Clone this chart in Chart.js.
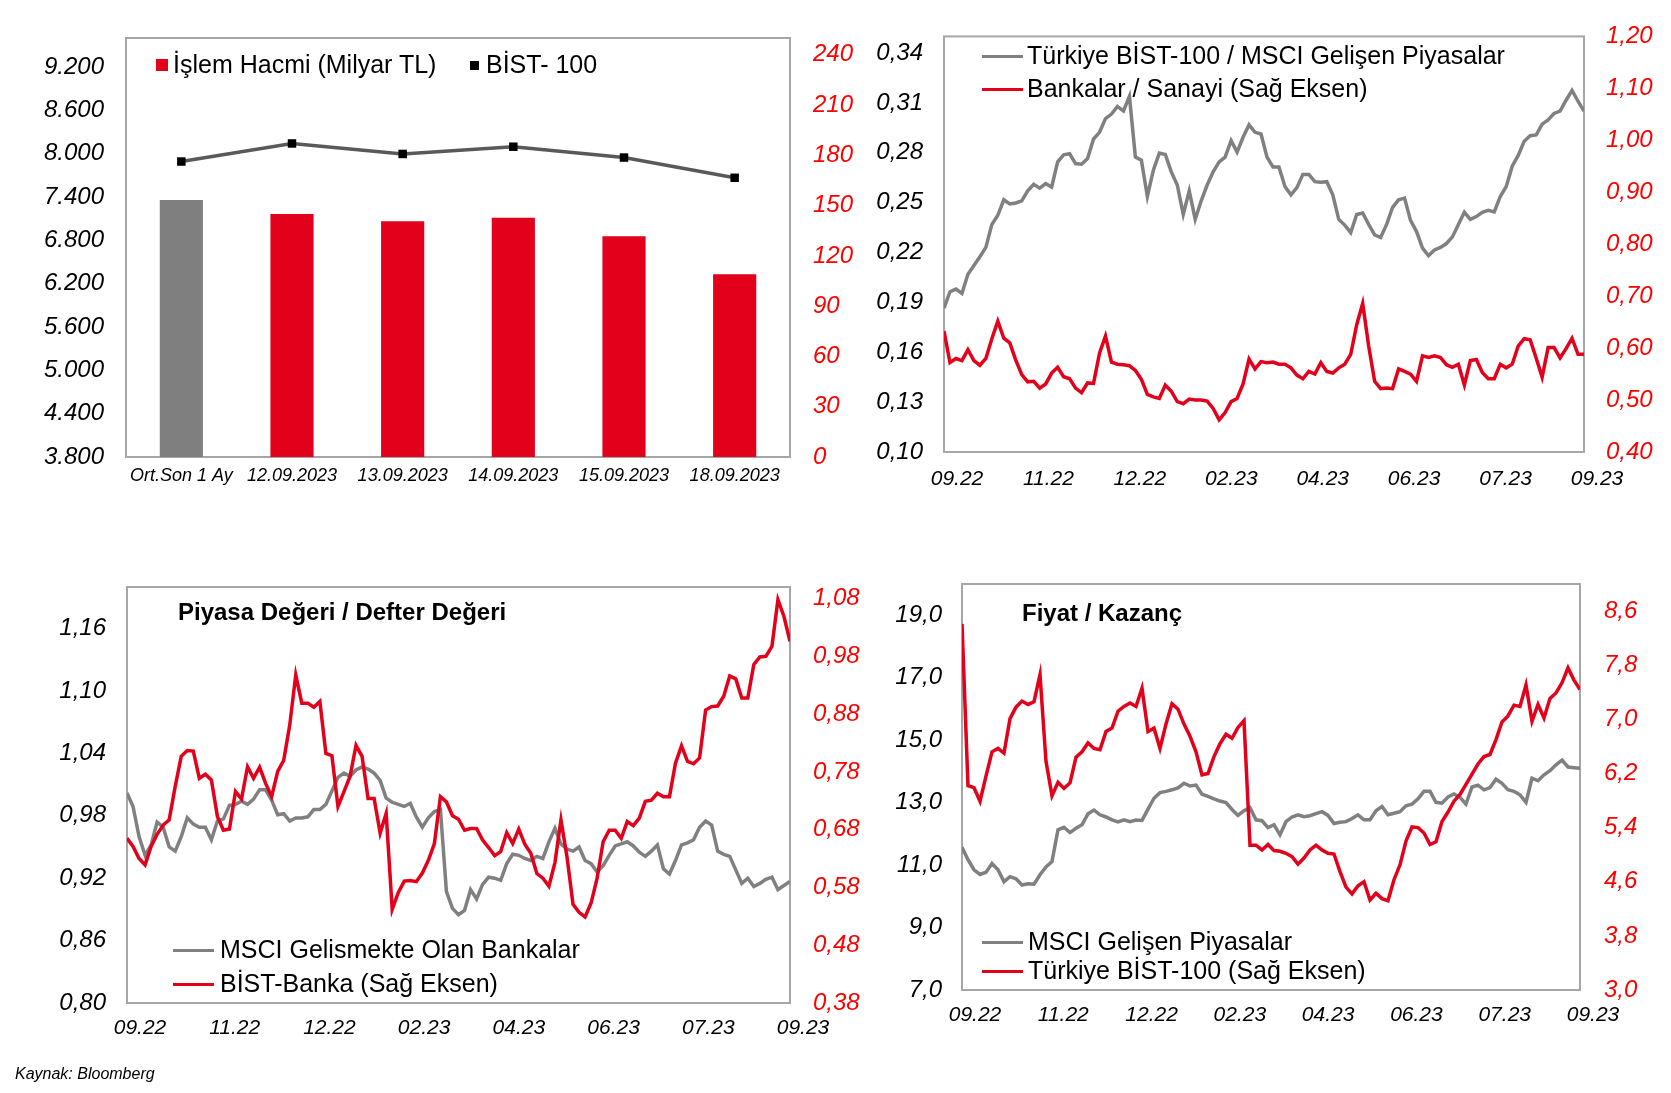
<!DOCTYPE html>
<html lang="tr">
<head>
  <meta charset="UTF-8">
  <title>Piyasa Göstergeleri</title>
  <style>
    body {
      margin: 0;
      background: #fff;
      font-family: "Liberation Sans", Arial, sans-serif;
    }
    #page {
      position: relative;
      width: 1671px;
      height: 1093px;
      overflow: hidden;
    }
    canvas {
      position: absolute;
    }
    .txt {
      position: absolute;
      font-size: 25px;
      line-height: 25px;
      color: #000;
      white-space: nowrap;
    }
    .title {
      position: absolute;
      font-size: 24px;
      line-height: 24px;
      font-weight: bold;
      color: #000;
      white-space: nowrap;
    }
    .sq {
      position: absolute;
    }
    .ln {
      position: absolute;
      width: 41px;
      height: 3px;
    }
    #source {
      position: absolute;
      left: 15px;
      top: 1066px;
      font-size: 16px;
      line-height: 16px;
      font-style: italic;
      color: #000;
    }
  </style>
</head>
<body>
<div id="page">
  <canvas id="volumeChart" width="870" height="510" style="left:0;top:0"></canvas>
  <canvas id="ratioChart" width="811" height="510" style="left:860px;top:0"></canvas>
  <canvas id="pbChart" width="870" height="553" style="left:0;top:540px"></canvas>
  <canvas id="peChart" width="811" height="553" style="left:860px;top:540px"></canvas>

  <!-- legends and titles sit inside the plot frames -->
  <div class="sq" style="left:156px;top:59px;width:12px;height:12px;background:#e2001a"></div>
  <div class="txt" style="left:173px;top:52px">İşlem Hacmi (Milyar TL)</div>
  <div class="sq" style="left:470px;top:61px;width:9px;height:9px;background:#000"></div>
  <div class="txt" style="left:486px;top:52px">BİST- 100</div>

  <div class="ln" style="left:982px;top:55px;background:#808080"></div>
  <div class="txt" style="left:1027px;top:43px">Türkiye BİST-100 / MSCI Gelişen Piyasalar</div>
  <div class="ln" style="left:982px;top:88px;background:#e2001a"></div>
  <div class="txt" style="left:1027px;top:76px">Bankalar / Sanayi (Sağ Eksen)</div>

  <div class="title" style="left:178px;top:600px">Piyasa Değeri / Defter Değeri</div>
  <div class="ln" style="left:173px;top:949px;background:#808080"></div>
  <div class="txt" style="left:220px;top:937px">MSCI Gelismekte Olan Bankalar</div>
  <div class="ln" style="left:173px;top:983px;background:#e2001a"></div>
  <div class="txt" style="left:220px;top:971px">BİST-Banka (Sağ Eksen)</div>

  <div class="title" style="left:1022px;top:601px">Fiyat / Kazanç</div>
  <div class="ln" style="left:982px;top:941px;background:#808080"></div>
  <div class="txt" style="left:1028px;top:929px">MSCI Gelişen Piyasalar</div>
  <div class="ln" style="left:982px;top:970px;background:#e2001a"></div>
  <div class="txt" style="left:1028px;top:958px">Türkiye BİST-100 (Sağ Eksen)</div>

  <div id="source">Kaynak: Bloomberg</div>
</div>

<script src="https://cdn.jsdelivr.net/npm/chart.js"></script>
<script>
  // ---- top left: daily volume and BIST-100 close
  const days = ['Ort.Son 1 Ay', '12.09.2023', '13.09.2023', '14.09.2023', '15.09.2023', '18.09.2023'];
  const volume = [153.3, 145.0, 140.6, 142.8, 131.7, 109.0];
  const bist100 = [7890, 8140, 7995, 8095, 7945, 7665];
  const bistTicks = [3800, 4400, 5000, 5600, 6200, 6800, 7400, 8000, 8600, 9200];
  const volumeTicks = [0, 30, 60, 90, 120, 150, 180, 210, 240];

  // ---- shared month labels of the three line charts
  const months = ['09.22', '11.22', '12.22', '02.23', '04.23', '06.23', '07.23', '09.23'];

  // ---- top right: BIST-100 / MSCI EM and banks / industrials
  const bistMsci = [
    0.1865, 0.1964, 0.1980, 0.1954, 0.2069, 0.2122, 0.2175, 0.2231, 0.2369, 0.2424,
    0.2517, 0.2492, 0.2498, 0.2511, 0.2571, 0.2610, 0.2587, 0.2614, 0.2594, 0.2745,
    0.2788, 0.2794, 0.2735, 0.2731, 0.2765, 0.2883, 0.2923, 0.3006, 0.3033, 0.3079,
    0.3051, 0.3140, 0.2774, 0.2755, 0.2537, 0.2695, 0.2798, 0.2790, 0.2685, 0.2606,
    0.2429, 0.2571, 0.2399, 0.2511, 0.2606, 0.2685, 0.2745, 0.2774, 0.2873, 0.2804,
    0.2893, 0.2968, 0.2923, 0.2913, 0.2774, 0.2715, 0.2715, 0.2597, 0.2547, 0.2590,
    0.2670, 0.2670, 0.2626, 0.2622, 0.2626, 0.2547, 0.2399, 0.2365, 0.2320, 0.2429,
    0.2438, 0.2369, 0.2306, 0.2290, 0.2369, 0.2472, 0.2517, 0.2527, 0.2393, 0.2326,
    0.2227, 0.2181, 0.2215, 0.2231, 0.2254, 0.2294, 0.2369, 0.2442, 0.2399, 0.2416,
    0.2442, 0.2454, 0.2444, 0.2537, 0.2597, 0.2719, 0.2784, 0.2869, 0.2903, 0.2907,
    0.2972, 0.2997, 0.3037, 0.3051, 0.3116, 0.3175, 0.3110, 0.3051
  ];
  const bankIndustry = [
    0.633, 0.572, 0.580, 0.576, 0.597, 0.576, 0.567, 0.580, 0.618, 0.652,
    0.619, 0.610, 0.577, 0.549, 0.535, 0.536, 0.523, 0.531, 0.552, 0.563,
    0.545, 0.541, 0.523, 0.514, 0.533, 0.532, 0.590, 0.623, 0.573, 0.569,
    0.568, 0.566, 0.557, 0.540, 0.511, 0.506, 0.503, 0.529, 0.517, 0.497,
    0.493, 0.502, 0.500, 0.500, 0.498, 0.484, 0.462, 0.476, 0.497, 0.503,
    0.531, 0.579, 0.560, 0.574, 0.572, 0.573, 0.569, 0.569, 0.562, 0.548,
    0.541, 0.555, 0.550, 0.572, 0.555, 0.552, 0.562, 0.569, 0.588, 0.645,
    0.686, 0.604, 0.536, 0.522, 0.523, 0.522, 0.560, 0.555, 0.550, 0.536,
    0.585, 0.582, 0.585, 0.582, 0.568, 0.563, 0.569, 0.529, 0.576, 0.578,
    0.553, 0.541, 0.541, 0.569, 0.562, 0.569, 0.604, 0.618, 0.616, 0.581,
    0.544, 0.601, 0.601, 0.581, 0.599, 0.619, 0.588, 0.588
  ];
  const ratioTicks = [0.10, 0.13, 0.16, 0.19, 0.22, 0.25, 0.28, 0.31, 0.34];
  const bankIndTicks = [0.40, 0.50, 0.60, 0.70, 0.80, 0.90, 1.00, 1.10, 1.20];

  // ---- bottom left: price / book
  const pbMsciBanks = [
    1.002, 0.989, 0.960, 0.942, 0.952, 0.974, 0.969, 0.950, 0.946, 0.960,
    0.978, 0.972, 0.969, 0.969, 0.957, 0.975, 0.977, 0.990, 0.991, 0.994,
    0.991, 0.996, 1.005, 1.005, 0.995, 0.981, 0.982, 0.975, 0.978, 0.978,
    0.979, 0.986, 0.986, 0.991, 1.004, 1.017, 1.021, 1.018, 1.024, 1.027,
    1.025, 1.021, 1.014, 0.997, 0.993, 0.991, 0.989, 0.992, 0.979, 0.969,
    0.978, 0.984, 0.986, 0.907, 0.891, 0.885, 0.889, 0.909, 0.900, 0.914,
    0.921, 0.920, 0.918, 0.934, 0.943, 0.942, 0.939, 0.937, 0.941, 0.939,
    0.955, 0.968, 0.953, 0.948, 0.946, 0.950, 0.937, 0.934, 0.926, 0.932,
    0.942, 0.951, 0.953, 0.955, 0.951, 0.945, 0.941, 0.946, 0.952, 0.929,
    0.924, 0.937, 0.952, 0.954, 0.957, 0.969, 0.975, 0.971, 0.946, 0.943,
    0.941, 0.928, 0.915, 0.920, 0.912, 0.915, 0.919, 0.921, 0.909, 0.913,
    0.917
  ];
  const pbBistBank = [
    0.665, 0.651, 0.630, 0.619, 0.651, 0.672, 0.688, 0.697, 0.755, 0.807,
    0.817, 0.816, 0.769, 0.776, 0.766, 0.703, 0.679, 0.681, 0.746, 0.733,
    0.789, 0.769, 0.788, 0.760, 0.737, 0.781, 0.800, 0.861, 0.948, 0.899,
    0.899, 0.892, 0.902, 0.812, 0.808, 0.720, 0.746, 0.772, 0.826, 0.807,
    0.734, 0.734, 0.674, 0.708, 0.542, 0.571, 0.591, 0.592, 0.590, 0.605,
    0.627, 0.656, 0.737, 0.728, 0.704, 0.698, 0.679, 0.682, 0.682, 0.662,
    0.649, 0.635, 0.642, 0.675, 0.656, 0.681, 0.655, 0.639, 0.604, 0.596,
    0.582, 0.623, 0.697, 0.633, 0.551, 0.537, 0.529, 0.553, 0.596, 0.659,
    0.679, 0.679, 0.665, 0.694, 0.687, 0.700, 0.729, 0.731, 0.743, 0.737,
    0.737, 0.795, 0.825, 0.798, 0.794, 0.804, 0.887, 0.893, 0.894, 0.911,
    0.946, 0.941, 0.908, 0.908, 0.966, 0.979, 0.980, 0.997, 1.078, 1.049,
    1.006
  ];
  const pbMsciTicks = [0.80, 0.86, 0.92, 0.98, 1.04, 1.10, 1.16];
  const pbBankTicks = [0.38, 0.48, 0.58, 0.68, 0.78, 0.88, 0.98, 1.08];

  // ---- bottom right: price / earnings
  const peMsci = [
    11.57, 11.17, 10.85, 10.70, 10.77, 11.05, 10.85, 10.47, 10.63, 10.56,
    10.36, 10.40, 10.39, 10.69, 10.94, 11.11, 12.13, 12.21, 12.04, 12.18,
    12.29, 12.64, 12.76, 12.61, 12.54, 12.45, 12.38, 12.45, 12.39, 12.44,
    12.43, 12.79, 13.14, 13.32, 13.36, 13.41, 13.47, 13.62, 13.53, 13.56,
    13.27, 13.20, 13.12, 13.05, 13.00, 12.78, 12.59, 12.74, 12.84, 12.45,
    12.42, 12.20, 12.29, 11.97, 12.39, 12.54, 12.61, 12.55, 12.58, 12.65,
    12.71, 12.59, 12.33, 12.37, 12.39, 12.49, 12.61, 12.45, 12.45, 12.74,
    12.88, 12.61, 12.66, 12.71, 12.90, 12.95, 13.12, 13.36, 13.36, 13.01,
    12.98, 13.18, 13.28, 13.17, 12.95, 13.50, 13.56, 13.41, 13.48, 13.75,
    13.62, 13.41, 13.36, 13.25, 13.01, 13.78, 13.70, 13.89, 14.02, 14.21,
    14.36, 14.14, 14.12, 14.10
  ];
  const peBist = [
    8.41, 6.02, 5.99, 5.79, 6.16, 6.52, 6.57, 6.50, 7.01, 7.18,
    7.27, 7.22, 7.26, 7.66, 6.38, 5.87, 6.07, 5.98, 6.06, 6.44,
    6.52, 6.65, 6.57, 6.55, 6.82, 6.87, 7.12, 7.19, 7.24, 7.19,
    7.46, 6.82, 6.87, 6.57, 6.93, 7.23, 7.15, 6.93, 6.75, 6.52,
    6.18, 6.20, 6.45, 6.64, 6.78, 6.72, 6.88, 6.98, 5.14, 5.14,
    5.07, 5.15, 5.06, 5.05, 5.02, 4.97, 4.86, 4.95, 5.07, 5.14,
    5.07, 5.02, 5.01, 4.75, 4.52, 4.42, 4.54, 4.60, 4.33, 4.43,
    4.35, 4.32, 4.63, 4.85, 5.20, 5.41, 5.40, 5.32, 5.15, 5.19,
    5.49, 5.63, 5.79, 5.89, 6.04, 6.19, 6.34, 6.45, 6.48, 6.70,
    6.96, 7.05, 7.21, 7.19, 7.51, 6.97, 7.22, 7.02, 7.31, 7.39,
    7.54, 7.76, 7.58, 7.44
  ];
  const peMsciTicks = [7, 9, 11, 13, 15, 17, 19];
  const peBistTicks = [3.0, 3.8, 4.6, 5.4, 6.2, 7.0, 7.8, 8.6];

  const RED = '#e2001a';
  const GRAY = '#808080';
  const FONT = '"Liberation Sans", Arial, sans-serif';
  const noGrid = { display: false, drawTicks: false };

  function italic(size) {
    return { family: FONT, size: size, style: 'italic' };
  }
  function thousands(v) {
    const s = String(v);
    return s.length > 3 ? s.slice(0, -3) + '.' + s.slice(-3) : s;
  }
  function comma(digits) {
    return v => v.toFixed(digits).replace('.', ',');
  }
  function fixedTicks(list) {
    return axis => { axis.ticks = list.map(v => ({ value: v })); };
  }

  // grey frame around the plot area
  const frame = {
    id: 'frame',
    beforeDatasetsDraw(chart) {
      const { ctx, chartArea: a } = chart;
      ctx.save();
      ctx.strokeStyle = '#a6a6a6';
      ctx.lineWidth = 2;
      ctx.strokeRect(a.left, a.top, a.right - a.left, a.bottom - a.top);
      ctx.restore();
    }
  };

  function valueAxis(pos, min, max, list, fmt, color, pad, width) {
    return {
      position: pos, min: min, max: max,
      afterBuildTicks: fixedTicks(list),
      ticks: { callback: fmt, color: color, font: italic(24), padding: pad },
      grid: noGrid,
      border: { display: false },
      afterFit: s => { s.width = width; }
    };
  }

  new Chart(document.getElementById('volumeChart'), {
    data: {
      labels: days,
      datasets: [
        {
          type: 'line', label: 'BİST- 100', data: bist100, yAxisID: 'y',
          borderColor: '#595959', borderWidth: 3.5,
          pointStyle: 'rect', pointRadius: 6, pointBackgroundColor: '#000', pointBorderWidth: 0,
          order: 0
        },
        {
          type: 'bar', label: 'İşlem Hacmi (Milyar TL)', data: volume, yAxisID: 'y1',
          backgroundColor: volume.map((v, i) => i === 0 ? '#7f7f7f' : RED),
          barPercentage: 0.39, categoryPercentage: 1,
          order: 1
        }
      ]
    },
    options: {
      responsive: false,
      animation: false,
      events: [],
      layout: { padding: { top: 38 } },
      plugins: { legend: { display: false }, tooltip: { enabled: false } },
      scales: {
        x: {
          grid: noGrid, border: { display: false },
          ticks: { font: italic(18), color: '#000', padding: 8, maxRotation: 0, autoSkip: false },
          afterFit: s => { s.height = 53; }
        },
        y: valueAxis('left', 3800, 9600, bistTicks, thousands, '#000', 22, 126),
        y1: valueAxis('right', 0, 250, volumeTicks, v => String(v), '#ff0000', 23, 80)
      }
    },
    plugins: [frame]
  });

  function dualLine(id, left, right, o) {
    const n = left.length;
    const pts = arr => arr.map((v, i) => ({ x: i, y: v }));
    return new Chart(document.getElementById(id), {
      type: 'line',
      data: {
        datasets: [
          { data: pts(left), yAxisID: 'y', borderColor: GRAY, borderWidth: 3.5, pointRadius: 0, order: 1 },
          { data: pts(right), yAxisID: 'y1', borderColor: RED, borderWidth: 3.5, pointRadius: 0, order: 0 }
        ]
      },
      options: {
        responsive: false,
        animation: false,
        events: [],
        layout: { padding: { top: o.top } },
        plugins: { legend: { display: false }, tooltip: { enabled: false } },
        scales: {
          x: {
            type: 'linear', min: 0, max: n - 1, offset: false,
            afterBuildTicks: axis => { axis.ticks = months.map((m, i) => ({ value: i * (n - 1) / 7 })); },
            ticks: {
              callback: (v, i) => months[i], font: italic(21), color: '#000',
              padding: o.xPad, labelOffset: 13, maxRotation: 0, autoSkip: false
            },
            grid: noGrid, border: { display: false },
            afterFit: s => { s.height = o.xH; }
          },
          y: valueAxis('left', o.lMin, o.lMax, o.lTicks, comma(o.lDig), '#000', o.lPad, o.lW),
          y1: valueAxis('right', o.rMin, o.rMax, o.rTicks, comma(o.rDig), '#ff0000', o.rPad, o.rW)
        }
      },
      plugins: [frame]
    });
  }

  dualLine('ratioChart', bistMsci, bankIndustry, {
    top: 31, xH: 58, xPad: 15,
    lMin: 0.10, lMax: 0.35, lTicks: ratioTicks, lDig: 2, lPad: 21, lW: 84,
    rMin: 0.40, rMax: 1.20, rTicks: bankIndTicks, rDig: 2, rPad: 22, rW: 87
  });

  dualLine('pbChart', pbMsciBanks, pbBistBank, {
    top: 47, xH: 90, xPad: 13,
    lMin: 0.80, lMax: 1.20, lTicks: pbMsciTicks, lDig: 2, lPad: 21, lW: 127,
    rMin: 0.38, rMax: 1.10, rTicks: pbBankTicks, rDig: 2, rPad: 23, rW: 80
  });

  dualLine('peChart', peMsci, peBist, {
    top: 44, xH: 103, xPad: 13,
    lMin: 7, lMax: 20, lTicks: peMsciTicks, lDig: 1, lPad: 20, lW: 102,
    rMin: 3, rMax: 9, rTicks: peBistTicks, rDig: 1, rPad: 24, rW: 91
  });
</script>
</body>
</html>
